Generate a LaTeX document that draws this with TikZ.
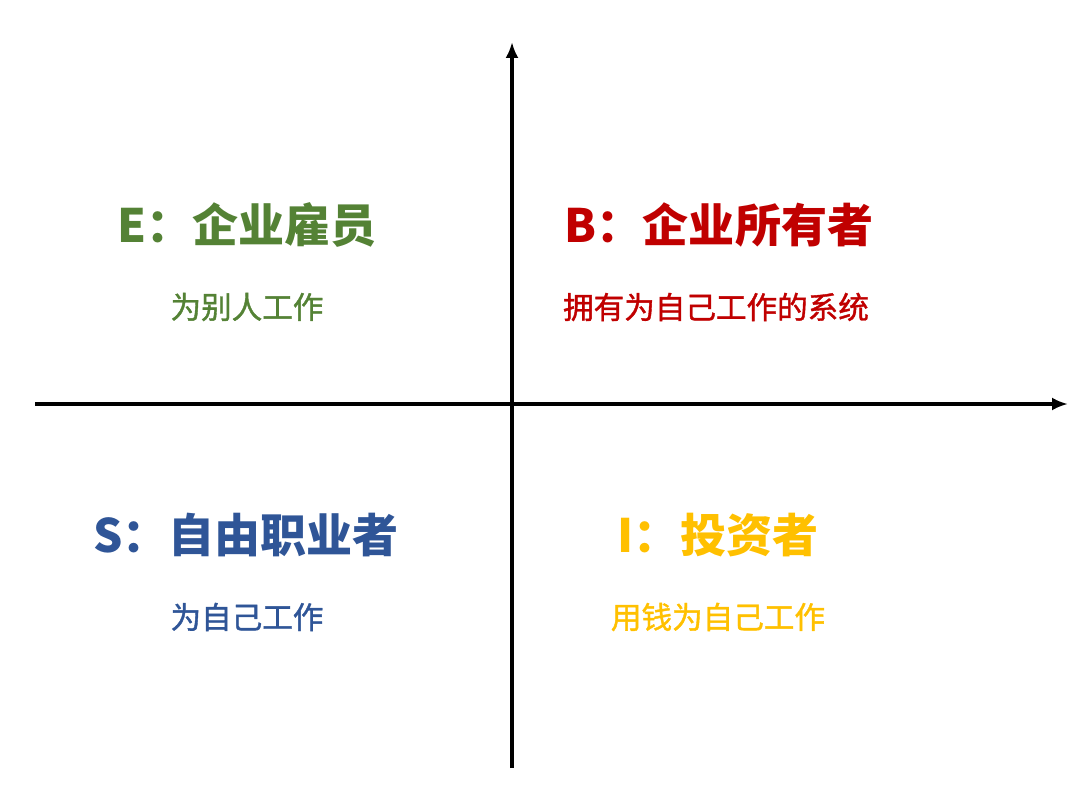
\documentclass[tikz,border=0pt]{standalone}
\usepackage{fontspec}
\usepackage{tikz}
\usetikzlibrary{arrows.meta}
\newfontfamily\cjk{Noto Sans CJK SC}
\newfontfamily\cjkmed{Noto Sans CJK SC}[FakeBold=1.3]
\definecolor{egreen}{HTML}{548235}
\definecolor{bred}{HTML}{C00000}
\definecolor{sblue}{HTML}{2F5597}
\definecolor{iyellow}{HTML}{FFC000}
\tikzstyle{title} = [font=\cjk\bfseries\fontsize{26.2}{30}\selectfont, text centered, inner sep=0pt]
\tikzstyle{sub} = [font=\cjkmed\fontsize{17.4}{20}\selectfont, text centered, inner sep=0pt]
\tikzstyle{axis} = [line width=2pt,-{Latex[length=0.32cm,width=0.26cm]}]

\begin{document}
\begin{tikzpicture}[node distance=1.64cm]
    \useasboundingbox (0,0) rectangle (21.6,16.1);
    \coordinate (ybot) at (10.24,0.74);
    \coordinate (ytop) at (10.24,15.26);
    \coordinate (xleft) at (0.7,8.02);
    \coordinate (xright) at (21.36,8.02);
    \draw [axis] (ybot) -- (ytop);
    \draw [axis] (xleft) -- (xright);
    \node (employee) [title, text=egreen] at (4.94,11.6) {E：企业雇员};
    \node (employeesub) [sub, text=egreen, below of=employee] {为别人工作};
    \node (owner) [title, text=bred] at (14.38,11.6) {B：企业所有者};
    \node (ownersub) [sub, text=bred, below of=owner, xshift=-0.06cm] {拥有为自己工作的系统};
    \node (selfemp) [title, text=sblue] at (4.92,5.4) {S：自由职业者};
    \node (selfempsub) [sub, text=sblue, below of=selfemp, xshift=0.02cm] {为自己工作};
    \node (investor) [title, text=iyellow] at (14.36,5.4) {I：投资者};
    \node (investorsub) [sub, text=iyellow, below of=investor] {用钱为自己工作};
\end{tikzpicture}
\end{document}
